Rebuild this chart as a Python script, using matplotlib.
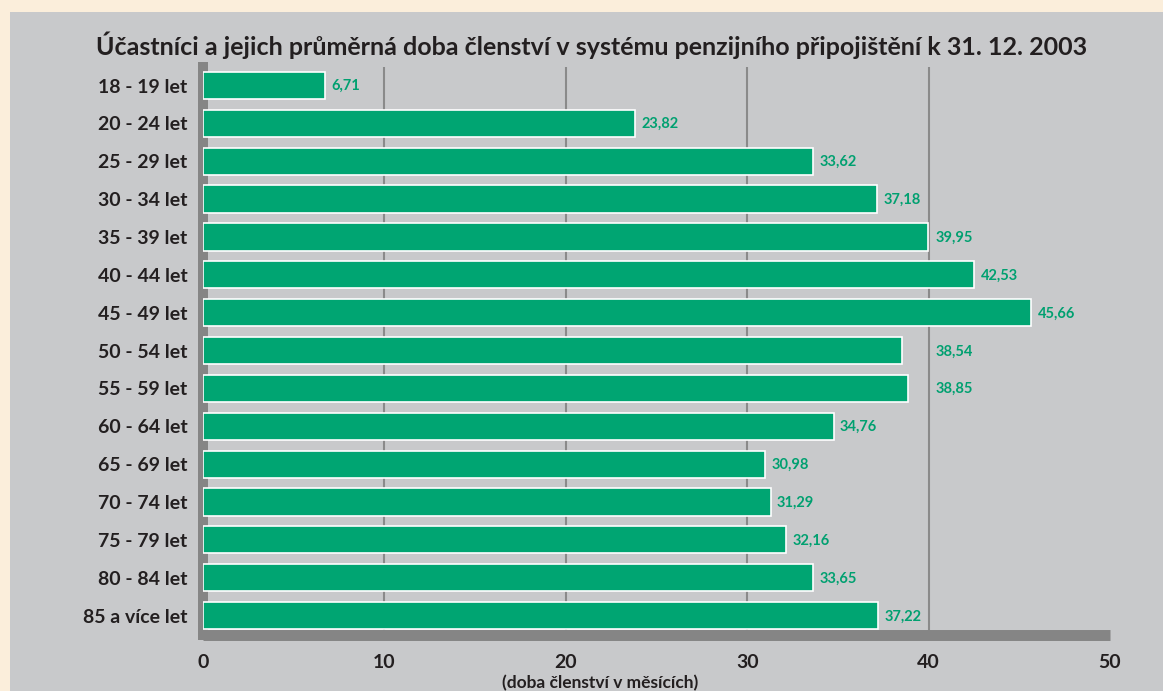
import matplotlib.pyplot as plt
from matplotlib.patches import Rectangle

# data
age_groups = ['18 - 19 let', '20 - 24 let', '25 - 29 let', '30 - 34 let', '35 - 39 let',
              '40 - 44 let', '45 - 49 let', '50 - 54 let', '55 - 59 let', '60 - 64 let',
              '65 - 69 let', '70 - 74 let', '75 - 79 let', '80 - 84 let', '85 a více let']
months = [6.71, 23.82, 33.62, 37.18, 39.95, 42.53, 45.66, 38.54, 38.85, 34.76,
          30.98, 31.29, 32.16, 33.65, 37.22]
x_ticks = [0, 10, 20, 30, 40, 50]
grid_lines = [10, 20, 30, 40]

title = 'Účastníci a jejich průměrná doba členství v systému penzijního připojištění k 31. 12. 2003'
x_label = '(doba členství v měsících)'

GREEN = '#00a572'
PANEL = '#c8c9cb'
DARK = '#231f20'
SPINE = '#858585'

plt.rcParams['font.family'] = ['Lato', 'DejaVu Sans']

W, H = 1163, 691
fig = plt.figure(figsize=(W / 100, H / 100), dpi=100)
fig.patch.set_facecolor('#fbeedb')
# grey panel behind everything
fig.patches.append(Rectangle((10 / W, 0), 1, 1 - 12 / H, transform=fig.transFigure,
                             facecolor=PANEL, edgecolor='none', zorder=-5))

left, right, top, bottom = 203, 1110, 66.6, 634.5
ax = fig.add_axes([left / W, 1 - bottom / H, (right - left) / W, (bottom - top) / H])
ax.set_facecolor('none')

ypos = range(len(age_groups))
ax.barh(ypos, months, height=0.72, color=GREEN, edgecolor='white', linewidth=1.2, zorder=3)

for y, v in zip(ypos, months):
    # labels that would hit the 40 gridline are moved past it
    lx = 40.4 if 37.5 < v < 40 else v + 0.35
    ax.text(lx, y + 0.02, f'{v:.2f}'.replace('.', ','), color='#00a070', fontsize=10.5,
            fontweight='bold', va='center', ha='left', zorder=4)

ax.set_xlim(0, 50)
ax.set_ylim(len(age_groups) - 0.5, -0.5)
ax.set_xticks(x_ticks)
ax.set_yticks(list(ypos))
ax.set_yticklabels(age_groups)
ax.tick_params(length=0, labelsize=14, labelcolor=DARK)
ax.tick_params(axis='y', pad=11)
ax.tick_params(axis='x', pad=14)
for lab in ax.get_xticklabels() + ax.get_yticklabels():
    lab.set_fontweight('bold')

ax.vlines(grid_lines, -0.5, len(age_groups) - 0.5, color='#8a8a8a', linewidth=1.5, zorder=1)

for s in ['top', 'right']:
    ax.spines[s].set_visible(False)
ax.spines['left'].set_linewidth(7.2)
ax.spines['left'].set_color(SPINE)
ax.spines['bottom'].set_linewidth(7.9)
ax.spines['bottom'].set_color(SPINE)
ax.spines['bottom'].set_capstyle('butt')

fig.text(592 / W, 1 - 45 / H, title, ha='center', va='center', fontsize=18,
         fontweight='bold', color=DARK)
fig.text(600 / W, 1 - 683 / H, x_label, ha='center', va='center', fontsize=12.5,
         fontweight='bold', color=DARK)

fig.savefig('out.png', dpi=100, facecolor=fig.get_facecolor())
